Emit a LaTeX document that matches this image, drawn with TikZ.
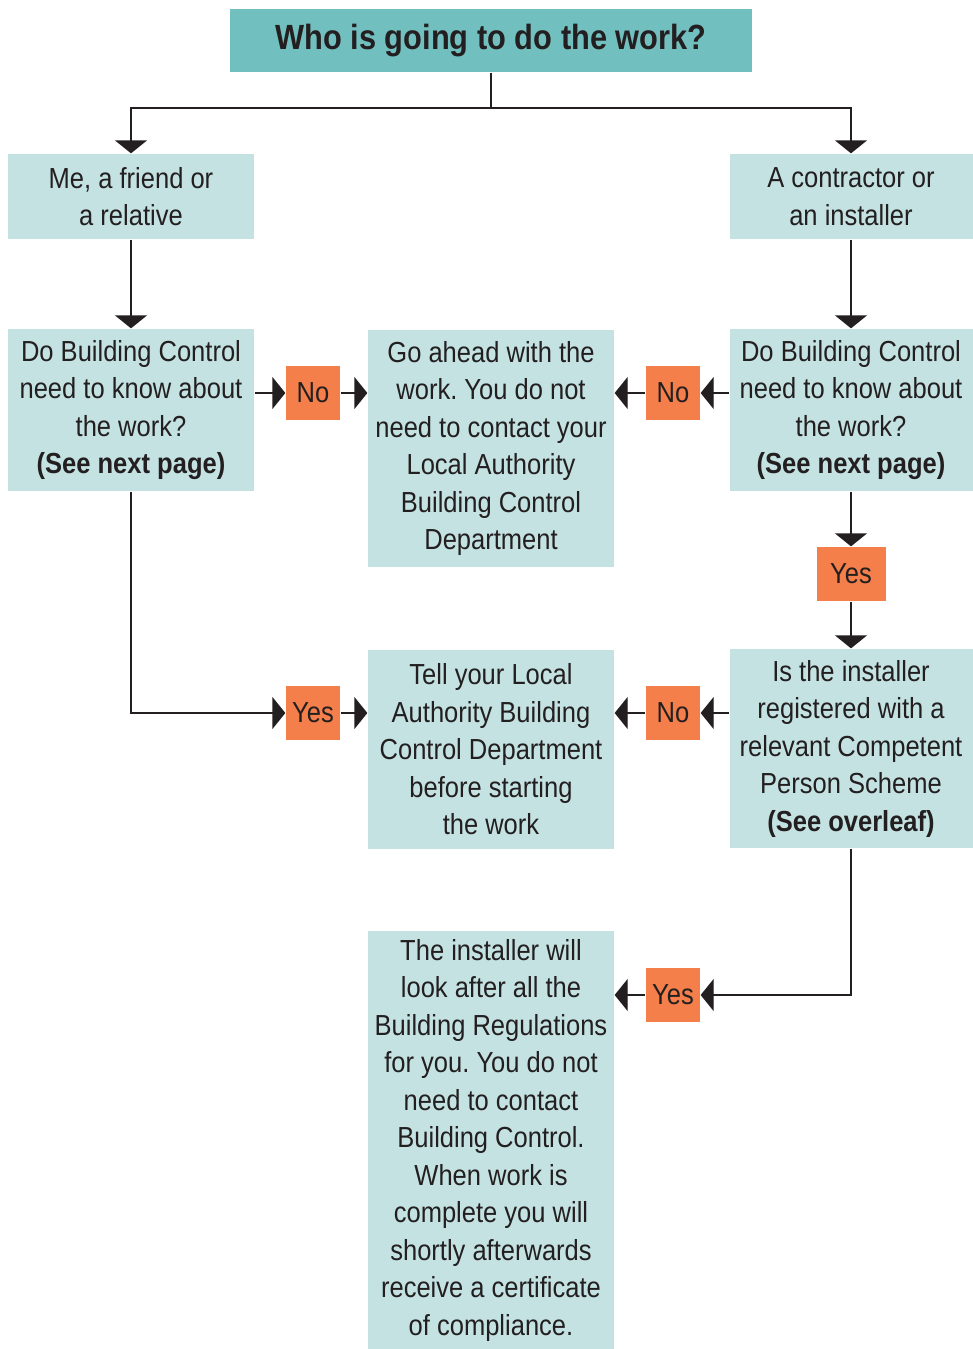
\documentclass[tikz,border=0pt]{standalone}
\usepackage{fontspec}
\setmainfont[FakeStretch=0.88]{Liberation Sans}
\usetikzlibrary{arrows.meta}
\definecolor{teal}{HTML}{72BFBF}
\definecolor{pale}{HTML}{C4E2E2}
\definecolor{orng}{HTML}{F47F4A}
\definecolor{ink}{HTML}{231F20}
\frenchspacing
\begin{document}
\begin{tikzpicture}[x=1pt,y=-1pt,line width=1.3pt,draw=ink,
  box/.style={fill=pale,text=ink,align=center,inner sep=0pt,minimum width=246pt,
    font=\fontsize{29}{37.5}\selectfont},
  ans/.style={fill=orng,text=ink,inner sep=0pt,minimum width=54pt,minimum height=54pt,
    font=\fontsize{29}{37.5}\selectfont},
  arr/.style={-{Triangle[width=32pt,length=13pt]}}]
\useasboundingbox (0,0) rectangle (972,1349);
\node[box,fill=teal,minimum width=522pt,minimum height=63pt,font=\fontsize{35}{40}\bfseries] (who) at (491,40.5) {Who is going to do the work?};
\node[box,minimum height=85pt] (me) at (131,196.5) {Me, a friend or\\a relative};
\node[box,minimum width=243pt,minimum height=85pt] (contr) at (851,196.5) {A contractor or\\an installer};
\node[box,minimum height=162pt] (qleft) at (131,410) {Do Building Control\\need to know about\\the work?\\\textbf{(See next page)}};
\node[box,minimum width=243pt,minimum height=162pt] (qright) at (851,410) {Do Building Control\\need to know about\\the work?\\\textbf{(See next page)}};
\node[box,minimum height=237pt] (goahead) at (491,448.5) {Go ahead with the\\work. You do not\\need to contact your\\Local Authority\\Building Control\\Department};
\node[ans] (noL) at (313,393) {No};
\node[ans] (noR) at (673,393) {No};
\node[ans,minimum width=69pt] (yesR) at (851,574) {Yes};
\node[box,minimum width=243pt,minimum height=199pt] (inst) at (851,748.5) {Is the installer\\registered with a\\relevant Competent\\Person Scheme\\\textbf{(See overleaf)}};
\node[box,minimum height=199pt] (tell) at (491,749.5) {Tell your Local\\Authority Building\\Control Department\\before starting\\the work};
\node[ans] (yesL) at (313,713) {Yes};
\node[ans] (noM) at (673,713) {No};
\node[box,minimum height=418pt] (final) at (491,1140) {The installer will\\look after all the\\Building Regulations\\for you. You do not\\need to contact\\Building Control.\\When work is\\complete you will\\shortly afterwards\\receive a certificate\\of compliance.};
\node[ans] (yesB) at (673,995) {Yes};
\coordinate (split) at (491,108);
\draw (who.south) -- (split);
\draw[arr] (split) -| (me.north);
\draw[arr] (split) -| (contr.north);
\draw[arr] (me.south) -- (qleft.north);
\draw[arr] (contr.south) -- (qright.north);
\draw[arr] (qleft.east |- noL) -- (noL.west);
\draw[arr] (noL.east) -- (goahead.west |- noL);
\draw[arr] (qright.west |- noR) -- (noR.east);
\draw[arr] (noR.west) -- (goahead.east |- noR);
\draw[arr] (qright.south) -- (yesR.north);
\draw[arr] (yesR.south) -- (inst.north);
\draw[arr] (inst.west |- noM) -- (noM.east);
\draw[arr] (noM.west) -- (tell.east |- noM);
\draw[arr] (qleft.south) |- (yesL.west);
\draw[arr] (yesL.east) -- (tell.west |- yesL);
\draw[arr] (inst.south) |- (yesB.east);
\draw[arr] (yesB.west) -- (final.east |- yesB);
\end{tikzpicture}
\end{document}
